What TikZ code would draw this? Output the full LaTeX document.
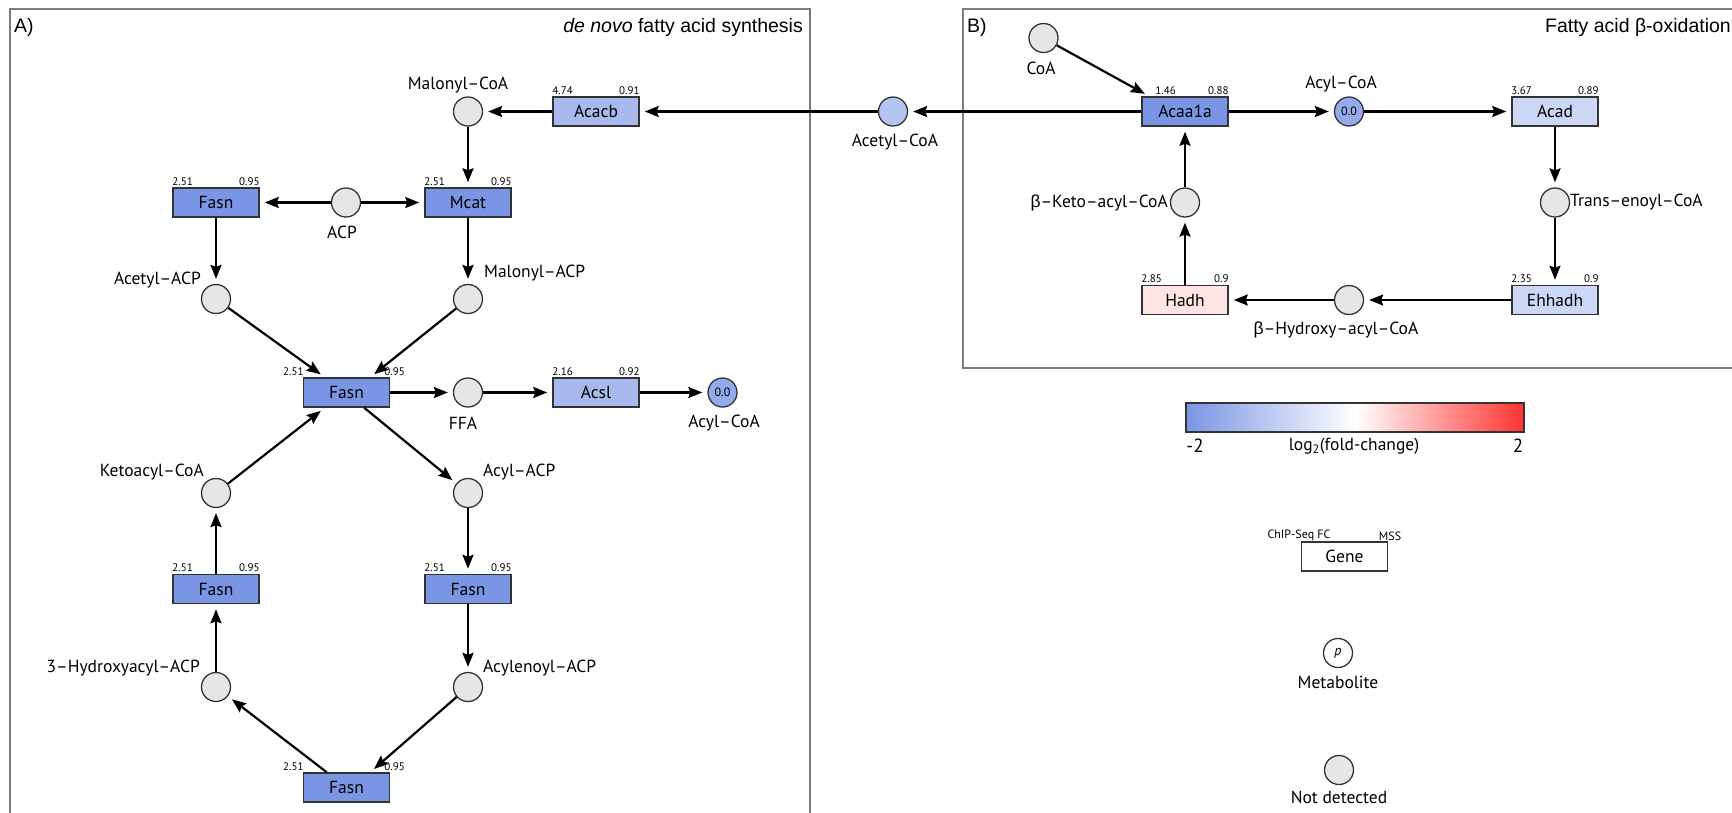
\documentclass[tikz,border=0pt]{standalone}
\usepackage{fontspec}
\setmainfont{PT Sans}
\newfontfamily\arialf{Liberation Sans}
\usetikzlibrary{arrows.meta,calc}
\definecolor{fasnc}{HTML}{7B95E5}
\definecolor{acacbc}{HTML}{A9B9EE}
\definecolor{acadc}{HTML}{CCD6F5}
\definecolor{hadhc}{HTML}{FFE4E4}
\definecolor{ndc}{HTML}{E6E6E6}
\definecolor{acetylc}{HTML}{B5C5F2}
\definecolor{acylc}{HTML}{95AAEB}
\definecolor{framec}{HTML}{7A7A7A}
\definecolor{edgec}{HTML}{333333}
\definecolor{redc}{HTML}{FF3333}
\newcommand{\grk}[1]{{\arialf #1}}
\begin{document}
\begin{tikzpicture}[x=1pt,y=-1pt,
  gene/.style={draw=edgec, line width=1.5pt, minimum width=86pt, minimum height=29pt, inner sep=0pt, font=\fontsize{17.5}{17.5}\selectfont},
  met/.style={circle, draw=edgec, line width=1.3pt, fill=ndc, minimum size=29pt, inner sep=0pt, font=\fontsize{12}{12}\selectfont},
  lbl/.style={font=\fontsize{17.5}{20}\selectfont, inner sep=0pt},
  num/.style={font=\fontsize{11}{11}\selectfont, inner sep=0pt},
  ttl/.style={font=\arialf\fontsize{19.5}{22}\selectfont, inner sep=0pt},
  rx/.style={-{Stealth[length=14pt,width=11pt,inset=2pt]}, line width=2.2pt, shorten >=5pt},
  frame/.style={draw=framec, line width=2pt}]
\useasboundingbox (0,0) rectangle (1732,812);
\fill[white] (0,0) rectangle (1732,812);
% panels
\draw[frame] (10,9) rectangle (810,815);
\draw[frame] (963,9) rectangle (1735,368);
\node[ttl, anchor=west] (pA) at (14,27) {A)};
\node[ttl, anchor=west] (pB) at (967,27) {B)};
\node[ttl, anchor=east] (tA) at (803,27) {\itshape de novo\upshape{} fatty acid synthesis};
\node[ttl, anchor=east] (tB) at (1731,27) {Fatty acid β-oxidation};

% ---------- Panel A ----------
\node[met] (mcoa) at (468,111.5) {};
\node[lbl] (mcoaL) at (458,85) {Malonyl–CoA};
\node[gene, fill=acacbc] (acacb) at (596,111.5) {Acacb};
\node[num, anchor=south west] (acacbl) at ([yshift=1.5pt]acacb.north west) {4.74};
\node[num, anchor=south east] (acacbr) at ([yshift=1.5pt]acacb.north east) {0.91};

\node[gene, fill=fasnc] (fasn1) at (216,202.5) {Fasn};
\node[num, anchor=south west] (fasn1l) at ([yshift=1.5pt]fasn1.north west) {2.51};
\node[num, anchor=south east] (fasn1r) at ([yshift=1.5pt]fasn1.north east) {0.95};
\node[met] (acp) at (346,202.5) {};
\node[lbl] (acpL) at (342,232) {ACP};
\node[gene, fill=fasnc] (mcat) at (468,202.5) {Mcat};
\node[num, anchor=south west] (mcatl) at ([yshift=1.5pt]mcat.north west) {2.51};
\node[num, anchor=south east] (mcatr) at ([yshift=1.5pt]mcat.north east) {0.95};

\node[met] (aacp) at (216,299) {};
\node[lbl, anchor=east] (aacpL) at (201,280) {Acetyl–ACP};
\node[met] (macp) at (468,299) {};
\node[lbl, anchor=west] (macpL) at (484,273) {Malonyl–ACP};

\node[gene, fill=fasnc] (fasn2) at (346.5,392.5) {Fasn};
\node[num, anchor=south east] (fasn2l) at ([xshift=1pt,yshift=1.5pt]fasn2.north west) {2.51};
\node[num, anchor=south west] (fasn2r) at ([xshift=-6pt,yshift=1.5pt]fasn2.north east) {0.95};
\node[met] (ffa) at (468,392.5) {};
\node[lbl] (ffaL) at (463,423) {FFA};
\node[gene, fill=acacbc] (acsl) at (596,392.5) {Acsl};
\node[num, anchor=south west] (acsll) at ([yshift=1.5pt]acsl.north west) {2.16};
\node[num, anchor=south east] (acslr) at ([yshift=1.5pt]acsl.north east) {0.92};
\node[met, fill=acylc] (acoa) at (722.5,392.5) {0.0};
\node[lbl] (acoaL) at (724,423) {Acyl–CoA};

\node[met] (kcoa) at (216,493) {};
\node[lbl, anchor=east] (kcoaL) at (204,472) {Ketoacyl–CoA};
\node[met] (yacp) at (468,493) {};
\node[lbl, anchor=west] (yacpL) at (483,472) {Acyl–ACP};

\node[gene, fill=fasnc] (fasn3) at (216,589) {Fasn};
\node[num, anchor=south west] (fasn3l) at ([yshift=1.5pt]fasn3.north west) {2.51};
\node[num, anchor=south east] (fasn3r) at ([yshift=1.5pt]fasn3.north east) {0.95};
\node[gene, fill=fasnc] (fasn4) at (468,589) {Fasn};
\node[num, anchor=south west] (fasn4l) at ([yshift=1.5pt]fasn4.north west) {2.51};
\node[num, anchor=south east] (fasn4r) at ([yshift=1.5pt]fasn4.north east) {0.95};

\node[met] (hacp) at (216,687) {};
\node[lbl, anchor=east] (hacpL) at (200,668) {3–Hydroxyacyl–ACP};
\node[met] (eacp) at (468,687) {};
\node[lbl, anchor=west] (eacpL) at (483,668) {Acylenoyl–ACP};

\node[gene, fill=fasnc] (fasn5) at (346.5,787.5) {Fasn};
\node[num, anchor=south east] (fasn5l) at ([xshift=1pt,yshift=1.5pt]fasn5.north west) {2.51};
\node[num, anchor=south west] (fasn5r) at ([xshift=-6pt,yshift=1.5pt]fasn5.north east) {0.95};

% ---------- Panel B ----------
\node[met] (coa) at (1043.5,38) {};
\node[lbl] (coaL) at (1041,68) {CoA};
\node[gene, fill=fasnc] (acaa) at (1185,111.5) {Acaa1a};
\node[num, anchor=south west] (acaal) at ([xshift=14pt,yshift=1.5pt]acaa.north west) {1.46};
\node[num, anchor=south east] (acaar) at ([yshift=1.5pt]acaa.north east) {0.88};
\node[met, fill=acetylc] (acetcoa) at (893,111.5) {};
\node[lbl] (acetcoaL) at (895,142) {Acetyl–CoA};
\node[met, fill=acylc] (bacoa) at (1349,111.5) {0.0};
\node[lbl] (bacoaL) at (1341,84) {Acyl–CoA};
\node[gene, fill=acadc] (acad) at (1555,111.5) {Acad};
\node[num, anchor=south west] (acadl) at ([yshift=1.5pt]acad.north west) {3.67};
\node[num, anchor=south east] (acadr) at ([yshift=1.5pt]acad.north east) {0.89};
\node[met] (tcoa) at (1555,202.5) {};
\node[lbl, anchor=west] (tcoaL) at (1570,202.5) {Trans–enoyl–CoA};
\node[met] (kacoa) at (1185,202.5) {};
\node[lbl, anchor=east] (kacoaL) at (1168,202.5) {\grk{β}–Keto–acyl–CoA};
\node[gene, fill=hadhc] (hadh) at (1185,300) {Hadh};
\node[num, anchor=south west] (hadhl) at ([yshift=1.5pt]hadh.north west) {2.85};
\node[num, anchor=south east] (hadhr) at ([yshift=1.5pt]hadh.north east) {0.9};
\node[met] (hcoa) at (1349,300) {};
\node[lbl] (hcoaL) at (1336,330) {\grk{β}–Hydroxy–acyl–CoA};
\node[gene, fill=acadc] (ehh) at (1555,300) {Ehhadh};
\node[num, anchor=south west] (ehhl) at ([yshift=1.5pt]ehh.north west) {2.35};
\node[num, anchor=south east] (ehhr) at ([yshift=1.5pt]ehh.north east) {0.9};

% ---------- Legend ----------
\shade[left color=fasnc, right color=redc, middle color=white] (1186,403) rectangle (1524,432);
\draw[edgec, line width=1.5pt] (1186,403) rectangle (1524,432);
\node[lbl, font=\fontsize{19}{20}\selectfont] (lm2) at (1195,446) {-2};
\node[lbl] (llog) at (1354,446) {log\textsubscript{2}(fold-change)};
\node[lbl, font=\fontsize{19}{20}\selectfont] (lp2) at (1518,446) {2};
\node[num, font=\fontsize{12}{12}\selectfont] (lchip) at (1299,535) {ChIP-Seq FC};
\node[num, font=\fontsize{12}{12}\selectfont] (lmss) at (1390,536) {MSS};
\node[gene, fill=white] (lgene) at (1344.5,556.5) {Gene};
\node[met, fill=white, font=\fontsize{14}{14}\selectfont] (lmet) at (1338,653) {\itshape p};
\node[lbl] (lmetL) at (1338,682) {Metabolite};
\node[met] (lnd) at (1339,770) {};
\node[lbl] (lndL) at (1339,797) {Not detected};

% ---------- Edges A ----------
\draw[rx] (acetcoa) -- (acacb);
\draw[rx] (acacb) -- (mcoa);
\draw[rx] (mcoa) -- (mcat);
\draw[rx] (acp) -- (fasn1);
\draw[rx] (acp) -- (mcat);
\draw[rx] (fasn1) -- (aacp);
\draw[rx] (mcat) -- (macp);
\draw[rx] (aacp) -- ([xshift=22pt]fasn2.north west);
\draw[rx] (macp) -- ([xshift=-20pt]fasn2.north east);
\draw[rx] (fasn2) -- (ffa);
\draw[rx] (ffa) -- (acsl);
\draw[rx] (acsl) -- (acoa);
\draw[rx] ([xshift=-26pt]fasn2.south east) -- (yacp);
\draw[rx] (kcoa) -- ([xshift=22pt]fasn2.south west);
\draw[rx] (yacp) -- (fasn4);
\draw[rx] (fasn4) -- (eacp);
\draw[rx] (eacp) -- ([xshift=-20pt]fasn5.north east);
\draw[rx] ([xshift=24pt]fasn5.north west) -- (hacp);
\draw[rx] (hacp) -- (fasn3);
\draw[rx] (fasn3) -- (kcoa);
% ---------- Edges B ----------
\draw[rx] (acaa) -- (acetcoa);
\draw[rx] (coa) -- ([xshift=8pt]acaa.north west);
\draw[rx] (acaa) -- (bacoa);
\draw[rx] (bacoa) -- (acad);
\draw[rx] (acad) -- (tcoa);
\draw[rx] (tcoa) -- (ehh);
\draw[rx] (ehh) -- (hcoa);
\draw[rx] (hcoa) -- (hadh);
\draw[rx] (hadh) -- (kacoa);
\draw[rx] (kacoa) -- (acaa);
\end{tikzpicture}
\end{document}
